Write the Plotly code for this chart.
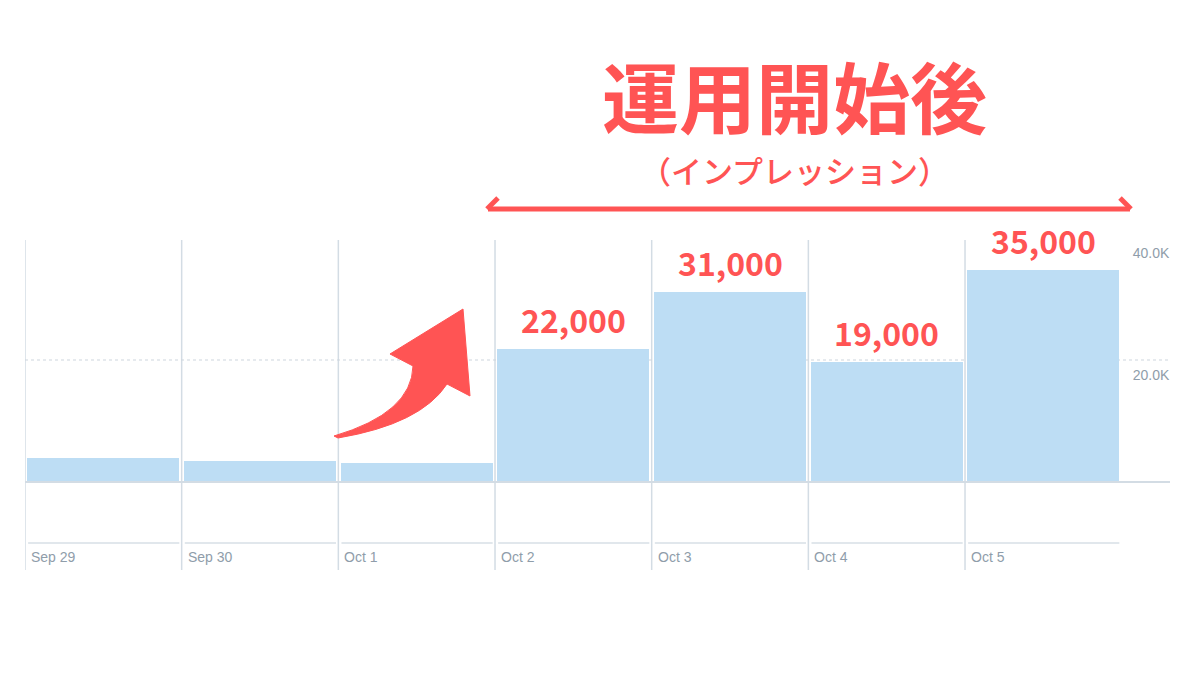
import plotly.graph_objects as go

# ---- data ----
dates = ["Sep 29", "Sep 30", "Oct 1", "Oct 2", "Oct 3", "Oct 4", "Oct 5"]
impressions = [3900, 3450, 3100, 21800, 31150, 19600, 34800]
value_labels = ["", "", "", "22,000", "31,000", "19,000", "35,000"]
ytick_vals = [20000, 40000]
ytick_text = ["20.0K", "40.0K"]
title_text = "運用開始後"
subtitle_text = "（インプレッション）"

RED = "#FF5454"
BAR = "#BDDDF4"
GRID = "#D3DCE4"
LABEL = "#8F9DAA"
W, H = 1200, 675
OFF = 8  # page body margin compensation


def px(x):
    return (x - OFF) / W


def py(y):
    return 1 - (y - OFF) / H


fig = go.Figure()
fig.add_trace(go.Bar(
    x=list(range(len(dates))), y=impressions, width=0.97,
    marker=dict(color=BAR, line=dict(width=0)),
    hoverinfo="skip", showlegend=False,
))

shapes = []
for i in range(len(dates)):
    shapes.append(dict(type="line", xref="x", yref="paper", x0=i - 0.5, x1=i - 0.5,
                       y0=py(570), y1=py(240), line=dict(color=GRID, width=1.5), layer="below"))
    shapes.append(dict(type="line", xref="x", yref="paper", x0=i - 0.48, x1=i + 0.485,
                       y0=py(543), y1=py(543), line=dict(color="#E1E7EC", width=2), layer="below"))
shapes.append(dict(type="line", xref="paper", yref="y", x0=px(25), x1=px(1168),
                   y0=ytick_vals[0], y1=ytick_vals[0],
                   line=dict(color="#CDD5DD", width=1, dash="dot"), layer="below"))
shapes.append(dict(type="line", xref="paper", yref="y", x0=px(25), x1=px(1170),
                   y0=0, y1=0, line=dict(color=GRID, width=2), layer="above"))


def path(points_cmds):
    out = []
    for cmd, pts in points_cmds:
        s = cmd
        if pts:
            s += " " + " ".join(f"{px(x):.5f},{py(y):.5f}" for x, y in pts)
        out.append(s)
    return " ".join(out)


curve = path([
    ("M", [(334, 436)]),
    ("Q", [(412, 413), (413, 366)]),
    ("L", [(390, 354)]),
    ("L", [(463, 309)]),
    ("L", [(470, 396)]),
    ("L", [(447, 384)]),
    ("Q", [(421, 424), (338, 438)]),
    ("Z", []),
])
shapes.append(dict(type="path", xref="paper", yref="paper", path=curve,
                   fillcolor=RED, line=dict(color=RED, width=1), layer="above"))

shapes.append(dict(type="line", xref="paper", yref="paper", x0=px(488), x1=px(1130),
                   y0=py(209), y1=py(209), line=dict(color=RED, width=5)))
shapes.append(dict(type="path", xref="paper", yref="paper",
                   path=path([("M", [(498, 198)]), ("L", [(487, 209), (498, 220)])]),
                   line=dict(color=RED, width=5)))
shapes.append(dict(type="path", xref="paper", yref="paper",
                   path=path([("M", [(1120, 198)]), ("L", [(1131, 209), (1120, 220)])]),
                   line=dict(color=RED, width=5)))

annotations = []
for i, d in enumerate(dates):
    annotations.append(dict(x=i - 0.5, xref="x", y=py(557), yref="paper", text=d,
                            showarrow=False, xanchor="left", yanchor="middle", xshift=4,
                            font=dict(family="Liberation Sans, Arial", size=14, color=LABEL)))
for i, (v, t) in enumerate(zip(impressions, value_labels)):
    if t:
        annotations.append(dict(x=i, xref="x", y=v, yref="y", text=t, showarrow=False,
                                xanchor="center", yanchor="middle", yshift=30,
                                font=dict(family="Noto Sans CJK JP", size=32, color=RED,
                                          weight="bold")))
annotations.append(dict(x=px(794), y=py(94), xref="paper", yref="paper", text=title_text,
                        showarrow=False, xanchor="center", yanchor="middle",
                        font=dict(family="Noto Sans CJK JP", size=77, color=RED, weight="bold")))
annotations.append(dict(x=px(794), y=py(169), xref="paper", yref="paper", text=subtitle_text,
                        showarrow=False, xanchor="center", yanchor="middle",
                        font=dict(family="Noto Sans CJK JP", size=31, color=RED, weight=500)))

ybot = -(570 - 482) / 6.1 * 1000
ytop = (482 - 236) / 6.1 * 1000
fig.update_layout(
    width=W, height=H, autosize=False,
    margin=dict(l=0, r=0, t=0, b=0, autoexpand=False),
    paper_bgcolor="white", plot_bgcolor="rgba(0,0,0,0)",
    bargap=0,
    xaxis=dict(domain=[px(25), px(1121.7)], range=[-0.5, 6.5], showticklabels=False,
               showgrid=False, zeroline=False, showline=False, ticks="", automargin=False),
    yaxis=dict(domain=[py(570), py(236)], range=[ybot, ytop], side="right",
               tickvals=ytick_vals, ticktext=ytick_text, showgrid=False, zeroline=False,
               showline=False, ticks="", ticklabelstandoff=10, ticklabelshift=15,
               automargin=False,
               tickfont=dict(family="Liberation Sans, Arial", size=14, color=LABEL)),
    shapes=shapes,
    annotations=annotations,
)

fig.write_html("out.html")
